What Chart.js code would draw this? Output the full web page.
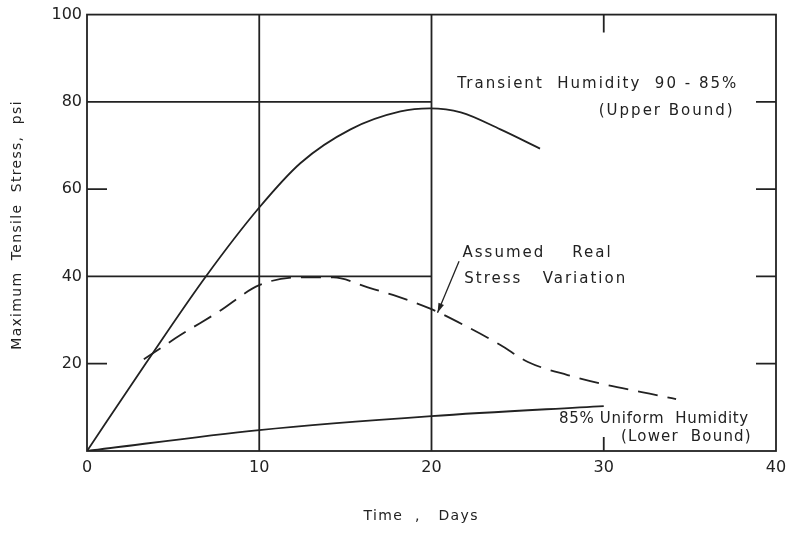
<!DOCTYPE html>
<html><head><meta charset="utf-8">
<script src="https://cdn.jsdelivr.net/npm/chart.js@4/dist/chart.umd.min.js"></script>
<style>html,body{margin:0;padding:0;background:#fff}#wrap{width:797px;height:536px}</style>
</head><body><div id="wrap"><canvas id="c" width="797" height="536"></canvas></div>
<script>
// Data (days, psi)
const upperDays = [0, 3.4, 6.9, 10, 12.4, 15.3, 18.2, 19.9, 21.7, 24, 26.3];
const upperPsi  = [0, 20, 40, 55.8, 66, 73.7, 77.8, 78.5, 77.6, 73.7, 69.3];
const realDays = [3.3, 5.4, 7.6, 10, 12.4, 14.3, 16.3, 17.8, 20, 22.1, 24, 25.6, 27.9, 30.2, 32.2, 34.2];
const realPsi  = [21, 26.5, 31.8, 38, 39.8, 39.8, 37.5, 35.7, 32.5, 28.4, 24.3, 20.4, 17.4, 15.1, 13.5, 11.9];
const lowerDays = [0, 10, 20, 30];
const lowerPsi  = [0, 4.8, 8, 10.3];
const xTicks = [0, 10, 20, 30, 40];
const yTicks = [20, 40, 60, 80, 100];
const gridX = [10, 20];           // full-height vertical lines
const gridY = [40, 80];           // horizontal lines from 0 to 20 days
const gridYEnd = 20;
const leftTicks = [20, 60];
const rightTicks = [20, 40, 60, 80];
const topTicks = [30];
const bottomTicks = [30];
const xTitle = 'Time  ,   Days';
const yTitle = 'Maximum  Tensile  Stress,  psi';

const pts = (xs, ys) => xs.map((x, i) => ({x, y: ys[i]}));
const INK = '#222';
const FONT = '"DejaVu Sans", sans-serif';

const framePlugin = {
  id: 'frame',
  afterDatasetsDraw(chart) {
    const {ctx, chartArea: a, scales: {x, y}} = chart;
    ctx.save();
    ctx.strokeStyle = INK; ctx.lineWidth = 1.8;
    ctx.strokeRect(a.left, a.top, a.right - a.left, a.bottom - a.top);
    ctx.beginPath();
    gridX.forEach(v => { const px = x.getPixelForValue(v); ctx.moveTo(px, a.top); ctx.lineTo(px, a.bottom); });
    gridY.forEach(v => { const py = y.getPixelForValue(v); ctx.moveTo(a.left, py); ctx.lineTo(x.getPixelForValue(gridYEnd), py); });
    leftTicks.forEach(v => { const py = y.getPixelForValue(v); ctx.moveTo(a.left, py); ctx.lineTo(a.left + 20, py); });
    rightTicks.forEach(v => { const py = y.getPixelForValue(v); ctx.moveTo(a.right, py); ctx.lineTo(a.right - 20, py); });
    topTicks.forEach(v => { const px = x.getPixelForValue(v); ctx.moveTo(px, a.top); ctx.lineTo(px, a.top + 18); });
    bottomTicks.forEach(v => { const px = x.getPixelForValue(v); ctx.moveTo(px, a.bottom); ctx.lineTo(px, a.bottom - 14); });
    ctx.stroke();

    // annotations
    ctx.fillStyle = INK;
    ctx.textBaseline = 'middle';
    const txt = (s, vx, vy, align, size, sp) => {
      ctx.font = size + 'px ' + FONT; ctx.letterSpacing = sp + 'px';
      ctx.textAlign = align; ctx.fillText(s, x.getPixelForValue(vx), y.getPixelForValue(vy));
    };
    txt('Transient  Humidity  90 - 85%', 21.5, 84, 'left', 15, 2);
    txt('(Upper Bound)', 37.6, 77.8, 'right', 15, 2);
    txt('Assumed    Real', 21.8, 45.4, 'left', 15, 2);
    txt('Stress   Variation', 21.9, 39.5, 'left', 15, 2);
    txt('85% Uniform  Humidity', 27.4, 7.4, 'left', 15, 0.7);
    txt('(Lower  Bound)', 38.6, 3.2, 'right', 15, 1.2);
    // axis titles
    ctx.save();
    ctx.font = '14px ' + FONT; ctx.letterSpacing = '1.3px'; ctx.textAlign = 'center';
    ctx.translate(17, y.getPixelForValue(51.8)); ctx.rotate(-Math.PI / 2);
    ctx.fillText(yTitle, 0, 0);
    ctx.restore();
    ctx.font = '14px ' + FONT; ctx.letterSpacing = '1.4px'; ctx.textAlign = 'center';
    ctx.fillText(xTitle, x.getPixelForValue(19.4), 516);
    // arrow
    const x0 = x.getPixelForValue(21.6), y0 = y.getPixelForValue(43.5);
    const x1 = x.getPixelForValue(20.35), y1 = y.getPixelForValue(31.7);
    ctx.lineWidth = 1.3;
    ctx.beginPath(); ctx.moveTo(x0, y0); ctx.lineTo(x1, y1); ctx.stroke();
    const ang = Math.atan2(y1 - y0, x1 - x0);
    ctx.beginPath();
    ctx.moveTo(x1, y1);
    ctx.lineTo(x1 - 10 * Math.cos(ang - 0.3), y1 - 10 * Math.sin(ang - 0.3));
    ctx.lineTo(x1 - 10 * Math.cos(ang + 0.3), y1 - 10 * Math.sin(ang + 0.3));
    ctx.closePath(); ctx.fill();
    ctx.restore();
  }
};

new Chart(document.getElementById('c'), {
  type: 'scatter',
  data: {
    datasets: [
      {label: 'Transient Humidity 90-85% (Upper Bound)', data: pts(upperDays, upperPsi), showLine: true, borderColor: INK, borderWidth: 1.8, pointRadius: 0, cubicInterpolationMode: 'monotone'},
      {label: 'Assumed Real Stress Variation', data: pts(realDays, realPsi), showLine: true, borderColor: INK, borderWidth: 1.8, borderDash: [20, 10], pointRadius: 0, cubicInterpolationMode: 'monotone'},
      {label: '85% Uniform Humidity (Lower Bound)', data: pts(lowerDays, lowerPsi), showLine: true, borderColor: INK, borderWidth: 1.8, pointRadius: 0, cubicInterpolationMode: 'monotone'}
    ]
  },
  options: {
    responsive: false, animation: false,
    layout: {padding: {top: 12, right: 21, left: 0, bottom: 0}},
    plugins: {legend: {display: false}, tooltip: {enabled: false}},
    scales: {
      x: {
        type: 'linear', min: 0, max: 40,
        afterBuildTicks: s => { s.ticks = xTicks.map(v => ({value: v})); },
        afterFit: s => { s.height = 85; },
        grid: {display: false, drawTicks: false},
        border: {display: false},
        ticks: {color: INK, font: {family: FONT, size: 16}, padding: 7, maxRotation: 0}
      },
      y: {
        type: 'linear', min: 0, max: 100,
        afterBuildTicks: s => { s.ticks = yTicks.map(v => ({value: v})); },
        afterFit: s => { s.width = 87; },
        grid: {display: false, drawTicks: false},
        border: {display: false},
        ticks: {color: INK, font: {family: FONT, size: 16}, padding: 5}
      }
    }
  },
  plugins: [framePlugin]
});
</script></body></html>
